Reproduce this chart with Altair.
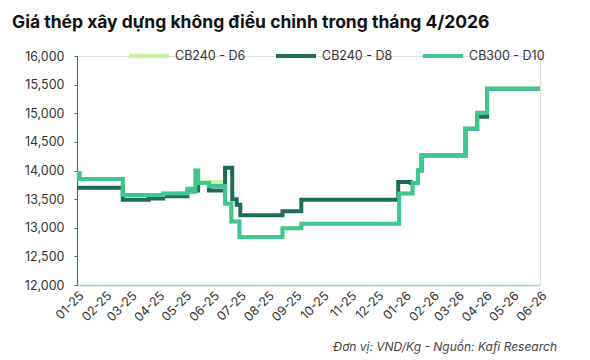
import altair as alt
import pandas as pd

TITLE = "Giá thép xây dựng không điều chỉnh trong tháng 4/2026"
FOOTNOTE = "Đơn vị: VND/Kg - Nguồn: Kafi Research"
SERIES = ["CB240 - D6", "CB240 - D8", "CB300 - D10"]
COLORS = ["#c8f5a2", "#1f6b5c", "#3ec78f"]
MONTH_TICKS = ["2025-01-01", "2025-02-01", "2025-03-01", "2025-04-01", "2025-05-01", "2025-06-01",
               "2025-07-01", "2025-08-01", "2025-09-01", "2025-10-01", "2025-11-01", "2025-12-01",
               "2026-01-01", "2026-02-01", "2026-03-01", "2026-04-01", "2026-05-01", "2026-06-01"]

# step change dates and values
d10_dates = ["2025-01-01", "2025-01-04", "2025-02-21", "2025-04-07", "2025-05-04", "2025-05-09",
             "2025-05-13", "2025-05-16", "2025-05-28", "2025-06-15", "2025-06-22", "2025-07-01",
             "2025-08-18", "2025-09-08", "2025-12-26", "2026-01-10", "2026-01-16", "2026-01-20",
             "2026-03-10", "2026-03-23", "2026-04-03", "2026-06-01"]
d10_values = [13950, 13850, 13570, 13600, 13680, 13630,
              14000, 13780, 13730, 13420, 13110, 12840,
              12990, 13070, 13600, 13780, 14000, 14260,
              14730, 15010, 15430, 15430]

d8_dates = ["2025-01-01", "2025-02-21", "2025-03-22", "2025-04-07", "2025-05-04", "2025-05-16",
            "2025-05-28", "2025-06-15", "2025-06-23", "2025-06-28", "2025-07-02", "2025-08-18",
            "2025-09-08", "2025-12-25", "2026-01-08", "2026-01-16", "2026-01-20", "2026-03-10",
            "2026-03-23", "2026-04-03", "2026-06-01"]
d8_values = [13700, 13490, 13510, 13550, 13650, 13780,
             13650, 14050, 13500, 13400, 13220, 13290,
             13490, 13800, 13780, 14000, 14260, 14730,
             14940, 15430, 15430]

d6_dates = ["2025-01-01", "2025-01-04", "2025-02-21", "2025-04-07", "2025-05-04", "2025-05-09",
            "2025-05-13", "2025-05-16", "2025-06-15", "2025-06-22", "2025-07-01",
            "2025-08-18", "2025-09-08", "2025-12-26", "2026-01-10", "2026-01-16", "2026-01-20",
            "2026-03-10", "2026-03-23", "2026-04-03", "2026-06-01"]
d6_values = [13950, 13850, 13570, 13600, 13680, 13630,
             14000, 13800, 13420, 13110, 12840,
             12990, 13070, 13600, 13780, 14000, 14260,
             14730, 15010, 15430, 15430]

X_START, X_END = "2025-01-01", "2026-06-01"
Y_MIN, Y_MAX = 12000, 16000

rows = []
for name, ds, vs in [(SERIES[0], d6_dates, d6_values),
                     (SERIES[1], d8_dates, d8_values),
                     (SERIES[2], d10_dates, d10_values)]:
    for d, v in zip(ds, vs):
        rows.append({"series": name, "date": d, "value": v})
df = pd.DataFrame(rows)

FONT = "Inter"

lines = alt.Chart(df).mark_line(interpolate="step-after", strokeWidth=4).encode(
    x=alt.X("date:T",
            scale=alt.Scale(domain=[X_START, X_END]),
            axis=alt.Axis(title=None, format="%m-%y",
                          values=[alt.DateTime(year=int(t[:4]), month=int(t[5:7]), date=1) for t in MONTH_TICKS],
                          labelAngle=-45, labelFontSize=12.5, labelColor="#333333", labelFont=FONT,
                          labelOverlap=False, labelBound=False, labelFlush=False,
                          ticks=False, domainColor="#9fd3cc", domainWidth=1.5, grid=False,
                          labelPadding=4)),
    y=alt.Y("value:Q",
            scale=alt.Scale(domain=[Y_MIN, Y_MAX], nice=False, zero=False),
            axis=alt.Axis(title=None, format=",.0f", values=list(range(Y_MIN, Y_MAX + 1, 500)),
                          labelFontSize=12.5, labelColor="#333333", labelFont=FONT,
                          domainColor="#2f7f73", domainWidth=1.2, tickColor="#2f7f73",
                          tickSize=3, grid=False, labelPadding=10, labelFlush=False)),
    color=alt.Color("series:N",
                    scale=alt.Scale(domain=SERIES, range=COLORS),
                    legend=alt.Legend(title=None, orient="none", direction="horizontal",
                                      legendX=50, legendY=-22, symbolType="stroke",
                                      symbolSize=1600, symbolStrokeWidth=4,
                                      labelFontSize=12.5, labelColor="#333333", labelFont=FONT,
                                      columnPadding=22, labelOffset=4)),
)

foot = alt.Chart(pd.DataFrame({"t": [FOOTNOTE]})).mark_text(
    align="right", baseline="middle", fontStyle="italic", fontSize=12, font=FONT, color="#444444"
).encode(text="t:N", x=alt.value(480), y=alt.value(291))

chart = alt.layer(lines, foot).properties(
    width=463, height=229,
    padding={"left": 77, "top": 56, "right": 50, "bottom": 75},
    autosize=alt.AutoSizeParams(type="none"),
    title=alt.TitleParams(TITLE, anchor="start", frame="group", fontSize=17.5, fontWeight="bold",
                          font=FONT, color="#111111", dx=-65, offset=3),
).configure_view(stroke=None).configure(background="white")

chart.save("out.html", embed_options={"renderer": "svg", "actions": False})
